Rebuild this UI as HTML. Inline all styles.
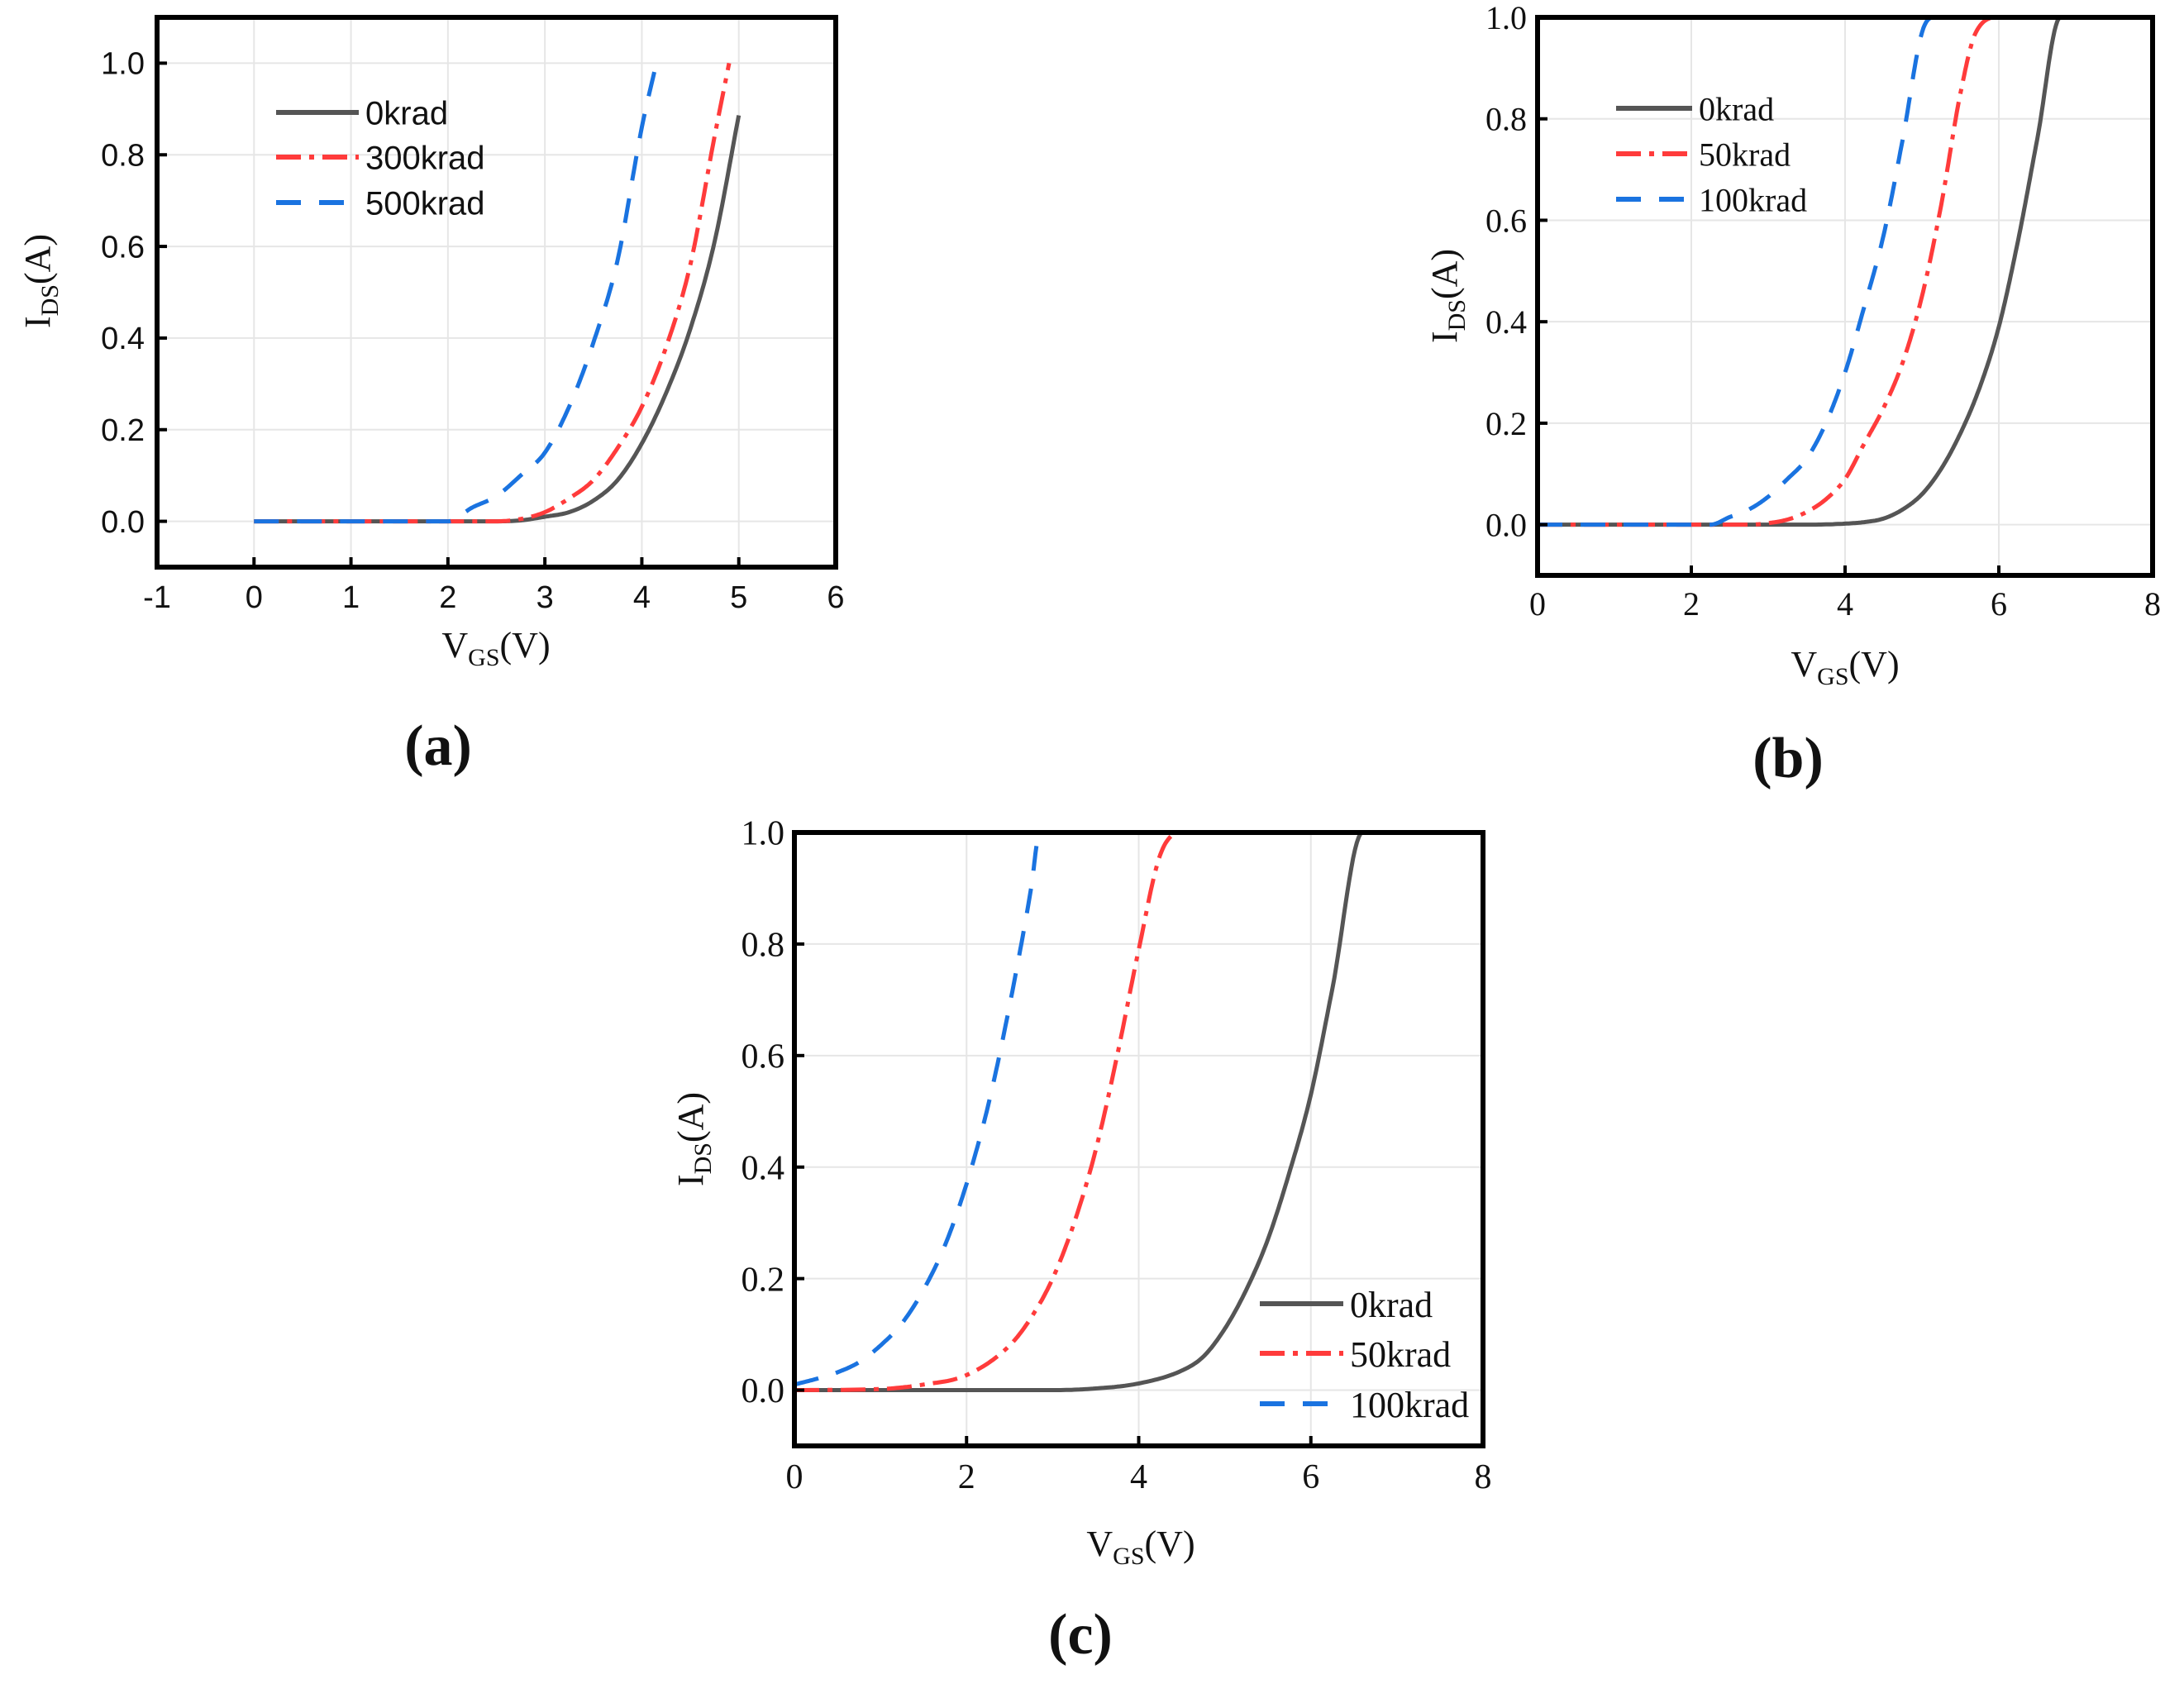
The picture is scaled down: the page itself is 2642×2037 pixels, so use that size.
<!DOCTYPE html>
<html><head><meta charset="utf-8"><style>
html,body{margin:0;padding:0;background:#fff}
svg{display:block}
.sans{font-family:"Liberation Sans",Arial,sans-serif}
.serif{font-family:"Liberation Serif","Times New Roman",serif}
</style></head><body>
<svg id="fig" xmlns="http://www.w3.org/2000/svg" width="2642" height="2037" viewBox="0 0 2642 2037"></svg>
<script>
// ---- Panel (a) data ----
const aX0 = [0,0.5,1,1.5,2,2.5,2.75,3,3.25,3.5,3.75,4,4.25,4.5,4.75,5];
const aY0 = [0,0,0,0,0,0,0.002,0.01,0.02,0.045,0.09,0.17,0.28,0.42,0.61,0.886];
const aX1 = [0,0.5,1,1.5,2,2.5,2.75,3,3.25,3.5,3.75,4,4.25,4.5,4.75,4.9];
const aY1 = [0,0,0,0,0,0,0.005,0.02,0.05,0.09,0.16,0.25,0.38,0.56,0.84,1.0];
const aX2 = [0,0.5,1,1.5,2,2.25,2.5,2.75,3,3.25,3.5,3.75,4,4.15];
const aY2 = [0,0,0,0,0,0.03,0.055,0.1,0.15,0.25,0.39,0.57,0.86,1.0];
const aLegend = ["0krad","300krad","500krad"];
const aXTicks = [-1,0,1,2,3,4,5,6];
const aYTicks = [0,0.2,0.4,0.6,0.8,1.0];
// ---- Panel (b) data ----
const bX0 = [0,3.5,4,4.25,4.5,4.75,5,5.25,5.5,5.75,6,6.25,6.5,6.8,8];
const bY0 = [0,0,0.002,0.005,0.012,0.03,0.06,0.11,0.18,0.27,0.39,0.56,0.76,1.0,1.0];
const bX1 = [0,2.75,3,3.25,3.5,3.75,4,4.25,4.5,4.75,5,5.25,5.5,5.7,6,8];
const bY1 = [0,0,0.003,0.01,0.025,0.05,0.09,0.16,0.23,0.32,0.45,0.63,0.85,0.97,1,1];
const bX2 = [0,2.25,2.5,2.75,3,3.25,3.5,3.75,4,4.25,4.5,4.75,5,5.15,8];
const bY2 = [0,0,0.015,0.03,0.055,0.09,0.13,0.2,0.3,0.43,0.57,0.76,0.97,1,1];
const bLegend = ["0krad","50krad","100krad"];
const bXTicks = [0,2,4,6,8];
const bYTicks = [0,0.2,0.4,0.6,0.8,1.0];
// ---- Panel (c) data ----
const cX0 = [0,3,3.5,4,4.5,4.75,5,5.25,5.5,5.75,6,6.25,6.6,8];
const cY0 = [0,0,0.003,0.012,0.035,0.06,0.11,0.18,0.27,0.39,0.53,0.72,1,1];
const cX1 = [0,1,1.5,2,2.5,2.75,3,3.25,3.5,3.75,4,4.25,4.5,8];
const cY1 = [0,0.002,0.01,0.027,0.08,0.13,0.2,0.3,0.43,0.6,0.79,0.96,1,1];
const cX2 = [0,0.25,0.5,0.75,1,1.25,1.5,1.75,2,2.25,2.5,2.75,2.85,8];
const cY2 = [0.01,0.02,0.032,0.05,0.08,0.12,0.18,0.26,0.37,0.51,0.69,0.9,1,1];
const cLegend = ["0krad","50krad","100krad"];
const cXTicks = [0,2,4,6,8];
const cYTicks = [0,0.2,0.4,0.6,0.8,1.0];

const NS = "http://www.w3.org/2000/svg";
const svg = document.getElementById("fig");
function mk(tag, attrs, parent){
  const e = document.createElementNS(NS, tag);
  for (const k in attrs) e.setAttribute(k, attrs[k]);
  (parent||svg).appendChild(e);
  return e;
}
const styles = [
  {stroke:"#555555", dash:""},
  {stroke:"#ff3b3b", dash:"30 10 6 10"},
  {stroke:"#1a73e0", dash:"30 22"}
];
// monotone cubic (Fritsch-Carlson) sampled densely
function pathFrom(xs, ys, sx, sy){
  const n = xs.length;
  const d = [], m = new Array(n);
  for (let i=0;i<n-1;i++) d.push((ys[i+1]-ys[i])/(xs[i+1]-xs[i]));
  m[0]=d[0]; m[n-1]=d[n-2];
  for (let i=1;i<n-1;i++) m[i] = (d[i-1]*d[i]<=0) ? 0 : (d[i-1]+d[i])/2;
  for (let i=0;i<n-1;i++){
    if (d[i]===0){ m[i]=0; m[i+1]=0; continue; }
    const a=m[i]/d[i], b=m[i+1]/d[i], s=a*a+b*b;
    if (s>9){ const t=3/Math.sqrt(s); m[i]=t*a*d[i]; m[i+1]=t*b*d[i]; }
  }
  let out = "M"+sx(xs[0]).toFixed(1)+","+sy(ys[0]).toFixed(1);
  for (let i=0;i<n-1;i++){
    const h = xs[i+1]-xs[i];
    const steps = 16;
    for (let k=1;k<=steps;k++){
      const t=k/steps, t2=t*t, t3=t2*t;
      const y = (2*t3-3*t2+1)*ys[i] + (t3-2*t2+t)*h*m[i] + (-2*t3+3*t2)*ys[i+1] + (t3-t2)*h*m[i+1];
      out += " L"+sx(xs[i]+t*h).toFixed(1)+","+sy(y).toFixed(1);
    }
  }
  return out;
}
function panel(cfg){
  const g = mk("g",{});
  
  
  const {L,R,T,B,xmin,xmax,ymin,ymax} = cfg;
  const sx = v => L + (v-xmin)/(xmax-xmin)*(R-L);
  const sy = v => B - (v-ymin)/(ymax-ymin)*(B-T);
  const fcls = cfg.serif ? "serif" : "sans";
  cfg.xTicks.forEach(v=>{
    if (v<=xmin||v>=xmax) return;
    const l = mk("line",{x1:sx(v),x2:sx(v),y1:T,y2:B,stroke:"#e6e6e6","stroke-width":2},g);
    
    
  });
  cfg.yTicks.forEach(v=>{
    const l = mk("line",{x1:L,x2:R,y1:sy(v),y2:sy(v),stroke:"#e6e6e6","stroke-width":2},g);
    
    
  });
  const clipId = cfg.id+"-clip";
  const cp = mk("clipPath",{id:clipId},g);
  mk("rect",{x:L,y:T-4,width:R-L,height:B-T+4},cp);
  cfg.series.forEach((s,i)=>{
    const p = mk("path",{d:pathFrom(s[0],s[1],sx,sy),fill:"none",stroke:styles[i].stroke,"stroke-width":5,"stroke-dasharray":styles[i].dash,"stroke-linejoin":"round","clip-path":"url(#"+clipId+")"},g);
    
    
  });
  const fr = mk("rect",{x:L,y:T,width:R-L,height:B-T,fill:"none",stroke:"#000","stroke-width":6},g);
  
  
  cfg.xTicks.forEach(v=>{
    if (v>xmin && v<xmax){
      const t = mk("line",{x1:sx(v),x2:sx(v),y1:B,y2:B-12,stroke:"#000","stroke-width":4},g);
      
      
    }
    const tx = mk("text",{x:sx(v),y:cfg.xLabY,"text-anchor":"middle","font-size":cfg.fs,"class":fcls,fill:"#111"},g);
    tx.textContent = String(v);
    
    
  });
  cfg.yTicks.forEach(v=>{
    const t = mk("line",{x1:L,x2:L+12,y1:sy(v),y2:sy(v),stroke:"#000","stroke-width":4},g);
    
    
    const tx = mk("text",{x:cfg.yLabX,y:sy(v)+cfg.fs*0.35,"text-anchor":"end","font-size":cfg.fs,"class":fcls,fill:"#111"},g);
    tx.textContent = v.toFixed(1);
    
    
  });
  const xt = mk("text",{x:cfg.xTitle[0],y:cfg.xTitle[1],"text-anchor":"middle","font-size":44,"class":"serif",fill:"#111"},g);
  
  
  xt.innerHTML = 'V<tspan font-size="30" dy="10">GS</tspan><tspan dy="-10">(V)</tspan>';
  const yt = mk("text",{x:0,y:0,"text-anchor":"middle","font-size":44,"class":"serif",fill:"#111",transform:"translate("+cfg.yTitle[0]+","+cfg.yTitle[1]+") rotate(-90)"},g);
  
  
  yt.innerHTML = 'I<tspan font-size="30" dy="10">DS</tspan><tspan dy="-10">(A)</tspan>';
  cfg.legend.forEach((name,i)=>{
    const y = cfg.legY[i];
    const l = mk("line",{x1:cfg.legX[0],x2:cfg.legX[1],y1:y,y2:y,stroke:styles[i].stroke,"stroke-width":6,"stroke-dasharray":styles[i].dash},g);
    
    
    const t = mk("text",{x:cfg.legX[1]+8,y:y+cfg.legFs*0.36,"font-size":cfg.legFs,"class":fcls,fill:"#111"},g);
    t.textContent = name;
    
    
  });
  const pl = mk("text",{x:cfg.lab[0],y:cfg.lab[1],"text-anchor":"middle","font-size":70,"font-weight":"bold","class":"serif",fill:"#111"},g);
  pl.textContent = "("+cfg.id+")";
  
  
}
panel({id:"a",L:190,R:1011,T:21,B:686,xmin:-1,xmax:6,ymin:-0.1,ymax:1.1,
  xTicks:aXTicks,yTicks:aYTicks,series:[[aX0,aY0],[aX1,aY1],[aX2,aY2]],legend:aLegend,
  fs:38,serif:false,xLabY:735,yLabX:175,xTitle:[600,795],yTitle:[60,340],
  legX:[334,434],legY:[136,190,245],legFs:40,lab:[530,925]});
panel({id:"b",L:1860,R:2604,T:21,B:696,xmin:0,xmax:8,ymin:-0.1,ymax:1.0,
  xTicks:bXTicks,yTicks:bYTicks,series:[[bX0,bY0],[bX1,bY1],[bX2,bY2]],legend:bLegend,
  fs:40,serif:true,xLabY:744,yLabX:1847,xTitle:[2232,818],yTitle:[1762,358],
  legX:[1955,2047],legY:[131,186,241],legFs:40,lab:[2163,940]});
panel({id:"c",L:961,R:1794,T:1007,B:1749,xmin:0,xmax:8,ymin:-0.1,ymax:1.0,
  xTicks:cXTicks,yTicks:cYTicks,series:[[cX0,cY0],[cX1,cY1],[cX2,cY2]],legend:cLegend,
  fs:42,serif:true,xLabY:1800,yLabX:949,xTitle:[1380,1882],yTitle:[850,1378],
  legX:[1524,1625],legY:[1577,1637,1698],legFs:44,lab:[1307,2000]});
</script>
</body></html>
